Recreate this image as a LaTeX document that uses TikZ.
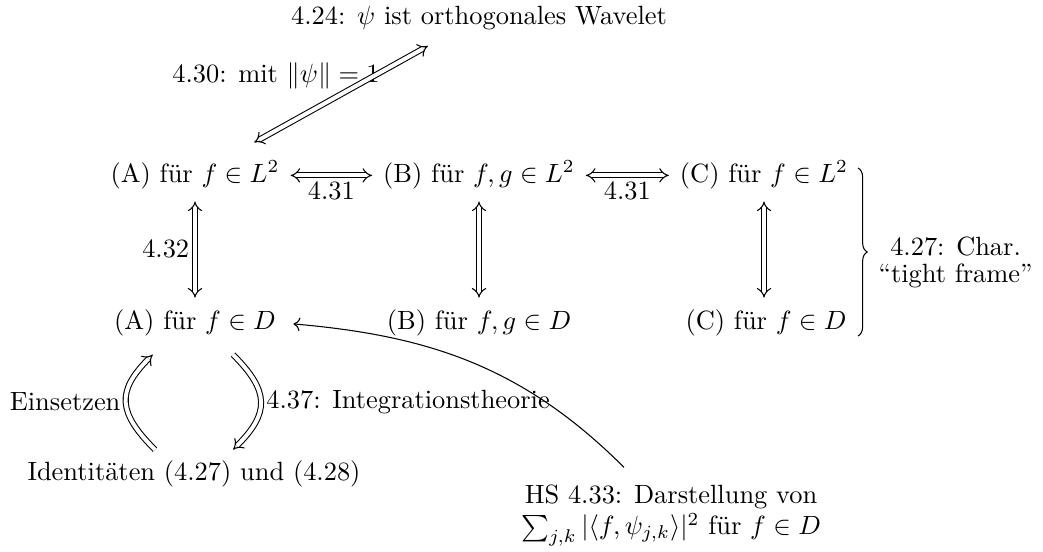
\documentclass[tikz,border=0pt]{standalone}
\usetikzlibrary{arrows.meta,decorations.pathreplacing}
\begin{document}
\begin{tikzpicture}[x=0.3788pt,y=-0.3788pt,
  cell/.style={anchor=base, inner sep=0pt, text height=7.5pt, text depth=2.5pt},
  lbl/.style={inner sep=0pt},
  dbl/.style={double, double distance=1.5pt, {Implies}-{Implies}},
  dblr/.style={double, double distance=1.5pt, -{Implies}},
  single/.style={->},
  bracestyle/.style={decorate, decoration={brace, amplitude=3.5pt}}
  ]
\useasboundingbox (0,0) rectangle (1043,551);
% nodes
\node[lbl, anchor=base] (top) at (479,24) {4.24: $\psi$ ist orthogonales Wavelet};
\node[lbl, anchor=base] (l430) at (276,82) {4.30: mit $\|\psi\|=1$};
\node[cell] (a1) at (195,182) {(A) für $f\in L^2$};
\node[cell] (b1) at (479,182) {(B) für $f,g\in L^2$};
\node[cell] (c1) at (764,182) {(C) für $f\in L^2$};
\node[cell] (a2) at (195,329) {(A) für $f\in D$};
\node[cell] (b2) at (479,329) {(B) für $f,g\in D$};
\node[cell] (c2) at (766,329) {(C) für $f\in D$};
\node[cell] (iden) at (194,480) {Identitäten (4.27) und (4.28)};
\node[lbl, align=center, anchor=north] (hs) at (671,484) {HS 4.33: Darstellung von\\$\sum_{j,k}|\langle f,\psi_{j,k}\rangle|^2$ für $f\in D$};
\node[lbl, anchor=west] (tf) at (878,262) {\shortstack{4.27: Char.\\“tight frame”}};
% brace
\draw[bracestyle] (858,168) -- (858,336);
% arrows
\draw[dbl, shorten <=12.5pt, shorten >=15pt] (top) -- (a1);
\draw[dbl, shorten <=4pt, shorten >=4pt] (a1.east) -- node[below, inner sep=2pt] (l431a) {4.31} (b1.west);
\draw[dbl, shorten <=4pt, shorten >=4pt] (b1.east) -- node[below, inner sep=2pt] (l431b) {4.31} (c1.west);
\draw[dbl, shorten <=4.7pt, shorten >=4.2pt] (a1) -- node[left, inner sep=2pt] (l432) {4.32} (a2);
\draw[dbl, shorten <=4.7pt, shorten >=4.2pt] (b1) -- (b2);
\draw[dbl, shorten <=4.7pt, shorten >=4.2pt] (c1.south) -- (c1.south |- c2.north);
\draw[dblr] ([xshift=-14.8pt, yshift=3.8pt]iden.north) to[out=135,in=225,looseness=1.4] node[left, inner sep=2pt] (einl) {Einsetzen} ([xshift=-16pt, yshift=-7pt]a2.south);
\draw[dblr] ([xshift=14.4pt, yshift=-7pt]a2.south) to[out=-45,in=45,looseness=1.4] node[right, inner sep=2pt] (intl) {4.37: Integrationstheorie} ([xshift=14.8pt, yshift=3.8pt]iden.north);
\draw[single, shorten >=6.5pt] ([xshift=-17.8pt, yshift=6.3pt]hs.north) to[out=135, in=-5] (a2.east);
\end{tikzpicture}
\end{document}
